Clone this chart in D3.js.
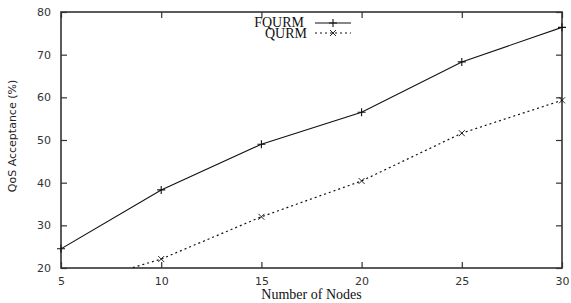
<!DOCTYPE html>
<html lang="en">
<head>
<meta charset="UTF-8">
<title>QoS Acceptance</title>
<script src="https://d3js.org/d3.v7.min.js"></script>
<style>
  body { margin: 0; background: #fff; }
</style>
</head>
<body>
<svg width="571" height="303"></svg>
<script>
// data
var nodes = [5, 10, 15, 20, 25, 30];
var fqurm = [24.5, 38.3, 49.0, 56.5, 68.3, 76.4];
var qurm  = [15.0, 22.1, 32.0, 40.4, 51.6, 59.3];
var xTicks = [5, 10, 15, 20, 25, 30];
var yTicks = [20, 30, 40, 50, 60, 70, 80];

var svg = d3.select("svg");
var pLeft = 61, pRight = 562, pTop = 12, pBottom = 268;

var x = d3.scaleLinear().domain([5, 30]).range([pLeft, pRight]);
var y = d3.scaleLinear().domain([20, 80]).range([pBottom, pTop]);

// clip so the dotted line stops at the bottom axis
svg.append("clipPath").attr("id", "plot")
  .append("rect").attr("x", pLeft).attr("y", pTop)
  .attr("width", pRight - pLeft).attr("height", pBottom - pTop);

var labelFont = "Verdana, 'DejaVu Sans', sans-serif";

// axes with inward ticks, mirrored on all four sides
svg.append("g").attr("transform", "translate(0," + pBottom + ")")
  .call(d3.axisBottom(x).tickValues(xTicks).tickSize(-6).tickPadding(9))
  .call(g => g.select(".domain").remove())
  .call(g => g.selectAll("text").attr("font-family", labelFont).attr("font-size", 11).attr("fill", "#333"));
svg.append("g").attr("transform", "translate(0," + pTop + ")")
  .call(d3.axisTop(x).tickValues(xTicks).tickSize(-6).tickFormat(""))
  .call(g => g.select(".domain").remove());
svg.append("g").attr("transform", "translate(" + pLeft + ",0)")
  .call(d3.axisLeft(y).tickValues(yTicks).tickSize(-6).tickPadding(10))
  .call(g => g.select(".domain").remove())
  .call(g => g.selectAll("text").attr("font-family", labelFont).attr("font-size", 11).attr("fill", "#333"));
svg.append("g").attr("transform", "translate(" + pRight + ",0)")
  .call(d3.axisRight(y).tickValues(yTicks).tickSize(-6).tickFormat(""))
  .call(g => g.select(".domain").remove());

svg.selectAll(".tick line").attr("stroke", "#333").attr("stroke-width", 1.2);

// frame
svg.append("rect")
  .attr("x", pLeft).attr("y", pTop)
  .attr("width", pRight - pLeft).attr("height", pBottom - pTop)
  .attr("fill", "none").attr("stroke", "#333").attr("stroke-width", 1.6);

var line = d3.line().x((d, i) => x(nodes[i])).y(d => y(d));

var plot = svg.append("g").attr("clip-path", "url(#plot)");

plot.append("path").datum(fqurm)
  .attr("d", line).attr("fill", "none")
  .attr("stroke", "#111").attr("stroke-width", 1.1);

plot.append("path").datum(qurm)
  .attr("d", line).attr("fill", "none")
  .attr("stroke", "#111").attr("stroke-width", 1.2)
  .attr("stroke-dasharray", "2,3");

function plus(g, cx, cy) {
  g.append("path").attr("d", "M" + (cx - 4) + "," + cy + "h8M" + cx + "," + (cy - 4) + "v8")
    .attr("stroke", "#111").attr("stroke-width", 1.1);
}
function cross(g, cx, cy) {
  g.append("path").attr("d", "M" + (cx - 3) + "," + (cy - 3) + "l6,6M" + (cx - 3) + "," + (cy + 3) + "l6,-6")
    .attr("stroke", "#111").attr("stroke-width", 0.9);
}

var marks = svg.append("g");
fqurm.forEach((v, i) => { if (v >= 20) plus(marks, x(nodes[i]), y(v)); });
qurm.forEach((v, i) => { if (v >= 20) cross(marks, x(nodes[i]), y(v)); });

// legend
var legend = svg.append("g").attr("font-family", "'Liberation Serif', 'DejaVu Serif', serif")
  .attr("font-size", 14).attr("fill", "#111");
legend.append("text").attr("x", 304).attr("y", 27).attr("text-anchor", "end").text("FQURM");
legend.append("text").attr("x", 307).attr("y", 38).attr("text-anchor", "end").text("QURM");
legend.append("line").attr("x1", 315).attr("x2", 351).attr("y1", 23).attr("y2", 23)
  .attr("stroke", "#111").attr("stroke-width", 1.1);
plus(legend, 333, 23);
legend.append("line").attr("x1", 315).attr("x2", 351).attr("y1", 33).attr("y2", 33)
  .attr("stroke", "#111").attr("stroke-width", 1.2).attr("stroke-dasharray", "2,3");
cross(legend, 333, 33);

// axis titles
svg.append("text").attr("x", (pLeft + pRight) / 2).attr("y", 299)
  .attr("text-anchor", "middle")
  .attr("font-family", "'Liberation Serif', 'DejaVu Serif', serif").attr("font-size", 14)
  .attr("fill", "#111").text("Number of Nodes");
svg.append("text").attr("transform", "translate(16," + ((pTop + pBottom) / 2 - 4) + ") rotate(-90)")
  .attr("text-anchor", "middle")
  .attr("font-family", labelFont).attr("font-size", 11)
  .attr("fill", "#222").text("QoS Acceptance (%)");
</script>
</body>
</html>
